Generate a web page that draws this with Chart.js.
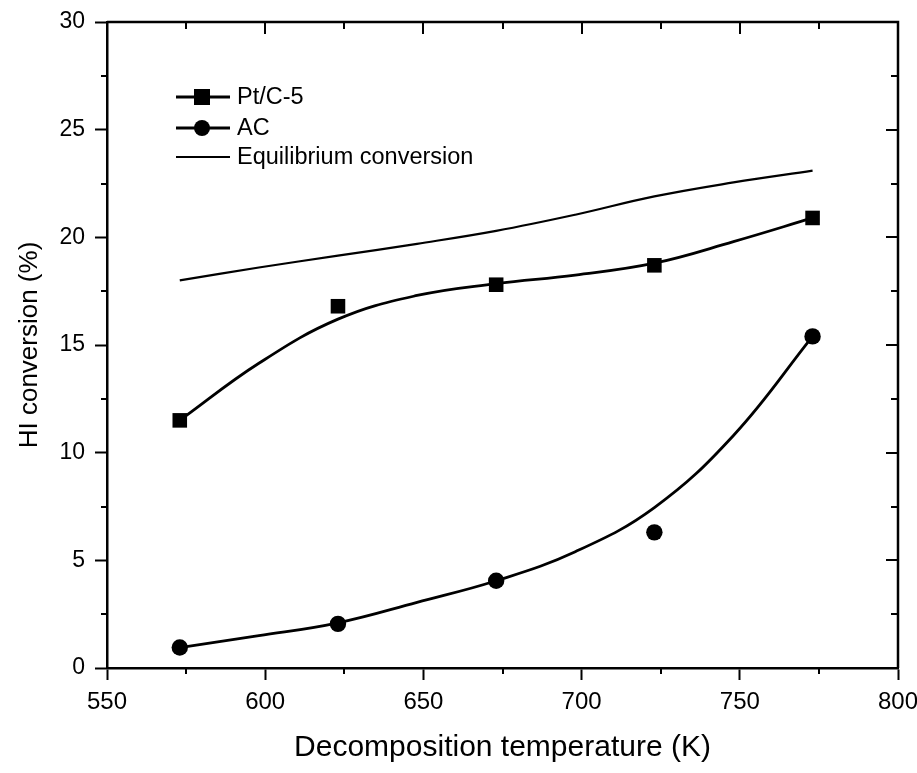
<!DOCTYPE html>
<html>
<head>
<meta charset="utf-8">
<script src="https://cdn.jsdelivr.net/npm/chart.js@4.4.1/dist/chart.umd.min.js"></script>
<style>
  body { margin: 0; background: #fff; overflow: hidden; }
</style>
</head>
<body>
<canvas id="Grafico" width="917" height="773"></canvas>
<script>
//Datos medidos
const temperaturas = [573, 623, 673, 723, 773];
const ptc5 = [11.5, 16.8, 17.8, 18.7, 20.9];
const ac = [0.95, 2.05, 4.05, 6.3, 15.4];

const ajusteT = [573, 598, 623, 648, 673, 698, 723, 748, 773];
const ptc5Ajuste = [11.5, 14.15, 16.2, 17.3, 17.85, 18.25, 18.8, 19.8, 20.9];
const acAjuste = [0.95, 1.5, 2.1, 3.05, 4.05, 5.4, 7.45, 10.8, 15.4];

//Conversion de equilibrio
const equilibrio = [18.0, 18.6, 19.15, 19.7, 20.3, 21.05, 21.9, 22.55, 23.1];

//Ticks de los ejes
const ticksX = [550, 600, 650, 700, 750, 800];
const ticksY = [0, 5, 10, 15, 20, 25, 30];

const puntos = (xs, ys) => xs.map((x, i) => ({ x: x, y: ys[i] }));

Chart.defaults.font.family = "'Liberation Sans', Arial, sans-serif";
Chart.defaults.color = '#000';

//Ticks menores y marco superior/derecho
const marco = {
  id: 'marco',
  afterDraw(chart) {
    const ctx = chart.ctx;
    const a = chart.chartArea;
    const sx = chart.scales.x;
    const sy = chart.scales.y;
    ctx.save();
    ctx.strokeStyle = '#000';
    ctx.lineWidth = 2.5;
    ctx.beginPath();
    ctx.moveTo(a.left, a.top);
    ctx.lineTo(a.right, a.top);
    ctx.lineTo(a.right, a.bottom);
    ctx.stroke();
    ctx.lineWidth = 2;
    ctx.beginPath();
    for (let v = 550; v <= 800; v += 25) {
      const px = Math.round(sx.getPixelForValue(v));
      const mayor = v % 50 === 0;
      if (!mayor) {
        ctx.moveTo(px, a.bottom);
        ctx.lineTo(px, a.bottom + 6);
      }
      ctx.moveTo(px, a.top);
      ctx.lineTo(px, a.top + (mayor ? 12 : 7));
    }
    for (let v = 0; v <= 30; v += 2.5) {
      const py = Math.round(sy.getPixelForValue(v));
      const mayor = v % 5 === 0;
      if (!mayor) {
        ctx.moveTo(a.left, py);
        ctx.lineTo(a.left - 6, py);
      }
      ctx.moveTo(a.right, py);
      ctx.lineTo(a.right - (mayor ? 12 : 7), py);
    }
    ctx.stroke();
    ctx.restore();
  }
};

//Leyenda dentro del grafico
const leyenda = {
  id: 'leyenda',
  afterDraw(chart) {
    const ctx = chart.ctx;
    const filas = [
      { texto: 'Pt/C-5', marca: 'rect', y: 97 },
      { texto: 'AC', marca: 'circle', y: 128 },
      { texto: 'Equilibrium conversion', marca: null, y: 157 }
    ];
    ctx.save();
    ctx.strokeStyle = '#000';
    ctx.fillStyle = '#000';
    ctx.font = "23.5px 'Liberation Sans', Arial, sans-serif";
    ctx.textBaseline = 'middle';
    filas.forEach(f => {
      ctx.lineWidth = f.marca ? 2.8 : 2;
      ctx.beginPath();
      ctx.moveTo(176, f.y);
      ctx.lineTo(230, f.y);
      ctx.stroke();
      if (f.marca === 'rect') {
        ctx.fillRect(194, f.y - 8, 16, 16);
      } else if (f.marca === 'circle') {
        ctx.beginPath();
        ctx.arc(202, f.y, 8, 0, Math.PI * 2);
        ctx.fill();
      }
      ctx.fillText(f.texto, 237, f.y + 1);
    });
    ctx.restore();
  }
};

const contexto = document.getElementById('Grafico').getContext('2d');
const Grafico = new Chart(contexto, {
  type: 'scatter',
  data: {
    datasets: [
      {
        label: 'Equilibrium conversion',
        data: puntos(ajusteT, equilibrio),
        showLine: true,
        borderColor: '#000',
        borderWidth: 2.2,
        pointRadius: 0,
        tension: 0.4,
        order: 3
      },
      {
        label: 'Pt/C-5 ajuste',
        data: puntos(ajusteT, ptc5Ajuste),
        showLine: true,
        borderColor: '#000',
        borderWidth: 2.8,
        pointRadius: 0,
        tension: 0.4,
        order: 2
      },
      {
        label: 'AC ajuste',
        data: puntos(ajusteT, acAjuste),
        showLine: true,
        borderColor: '#000',
        borderWidth: 2.8,
        pointRadius: 0,
        tension: 0.4,
        order: 2
      },
      {
        label: 'Pt/C-5',
        data: puntos(temperaturas, ptc5),
        pointStyle: 'rect',
        pointRadius: 10.3,
        backgroundColor: '#000',
        borderColor: '#000',
        borderWidth: 0,
        order: 1
      },
      {
        label: 'AC',
        data: puntos(temperaturas, ac),
        pointStyle: 'circle',
        pointRadius: 8.2,
        backgroundColor: '#000',
        borderColor: '#000',
        borderWidth: 0,
        order: 1
      }
    ]
  },
  options: {
    responsive: false,
    animation: false,
    layout: { padding: { top: 22, right: 19, bottom: 0, left: 0 } },
    plugins: {
      legend: { display: false },
      tooltip: { enabled: false }
    },
    scales: {
      x: {
        type: 'linear',
        min: 550,
        max: 800,
        afterBuildTicks: s => { s.ticks = ticksX.map(v => ({ value: v })); },
        afterFit: s => { s.height = 105; s.paddingLeft = 0; s.paddingRight = 0; },
        ticks: { font: { size: 24 }, padding: 8, maxRotation: 0 },
        grid: { drawOnChartArea: false, tickLength: 12, tickWidth: 2, tickColor: '#000' },
        border: { color: '#000', width: 2.5 },
        title: {
          display: true,
          text: 'Decomposition temperature (K)',
          font: { size: 30 },
          padding: { top: 0, bottom: 7 }
        }
      },
      y: {
        min: 0,
        max: 30,
        afterBuildTicks: s => { s.ticks = ticksY.map(v => ({ value: v })); },
        afterFit: s => { s.width = 107; s.paddingTop = 0; s.paddingBottom = 0; },
        ticks: { font: { size: 23 }, padding: 10 },
        grid: { drawOnChartArea: false, tickLength: 12, tickWidth: 2, tickColor: '#000' },
        border: { color: '#000', width: 2.5 },
        title: {
          display: true,
          text: 'HI conversion (%)',
          font: { size: 26 },
          padding: { top: 14, bottom: 0 }
        }
      }
    }
  },
  plugins: [marco, leyenda]
});
</script>
</body>
</html>
